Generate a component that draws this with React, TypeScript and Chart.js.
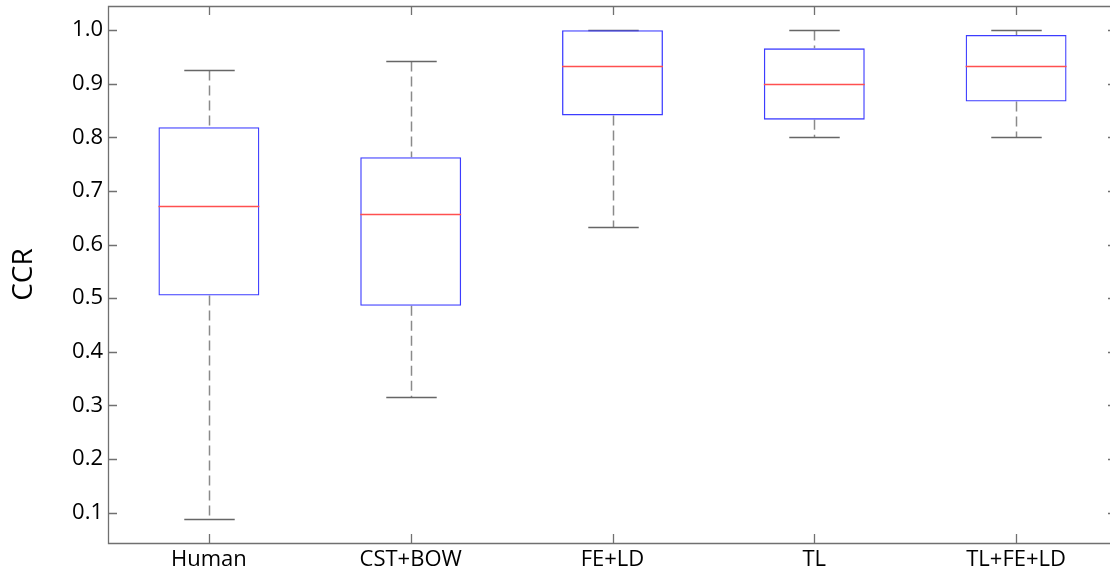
import React, { useEffect, useRef } from "react";
import { Chart, registerables } from "chart.js";

Chart.register(...registerables);

const CATEGORIES = ["Human", "CST+BOW", "FE+LD", "TL", "TL+FE+LD"];
const WHISKER_LOW = [0.088, 0.315, 0.633, 0.8, 0.8];
const Q1 = [0.505, 0.486, 0.841, 0.833, 0.867];
const MEDIAN = [0.672, 0.657, 0.933, 0.9, 0.933];
const Q3 = [0.819, 0.763, 1.0, 0.966, 0.991];
const WHISKER_HIGH = [0.926, 0.942, 1.0, 1.0, 1.0];
const Y_TICKS = [0.1, 0.2, 0.3, 0.4, 0.5, 0.6, 0.7, 0.8, 0.9, 1.0];
const Y_MIN = 0.0435;
const Y_MAX = 1.045;
const Y_LABEL = "CCR";

const FONT = "'Open Sans', 'Noto Sans', sans-serif";
const AXIS_COLOR = "#707070";
const TICK_LEN = 9;

const boxExtras = {
  id: "boxExtras",
  beforeDatasetsDraw(chart: any) {
    const { ctx, scales } = chart;
    const x = scales.x;
    const y = scales.y;
    const step = x.getPixelForValue(1) - x.getPixelForValue(0);
    ctx.save();
    CATEGORIES.forEach((_, i) => {
      const cx = Math.round(x.getPixelForValue(i)) + 0.5;
      const yHi = Math.round(y.getPixelForValue(WHISKER_HIGH[i])) + 0.5;
      const yLo = Math.round(y.getPixelForValue(WHISKER_LOW[i])) + 0.5;
      const yQ1 = y.getPixelForValue(Q1[i]);
      const yQ3 = y.getPixelForValue(Q3[i]);
      ctx.setLineDash([10, 5]);
      ctx.strokeStyle = "#8a8a8a";
      ctx.lineWidth = 1.5;
      ctx.beginPath();
      ctx.moveTo(cx, yHi);
      ctx.lineTo(cx, yQ3);
      ctx.moveTo(cx, yQ1);
      ctx.lineTo(cx, yLo);
      ctx.stroke();
      ctx.setLineDash([]);
      ctx.strokeStyle = "#666666";
      ctx.lineWidth = 1.5;
      ctx.beginPath();
      ctx.moveTo(cx - step * 0.125, yHi);
      ctx.lineTo(cx + step * 0.125, yHi);
      ctx.moveTo(cx - step * 0.125, yLo);
      ctx.lineTo(cx + step * 0.125, yLo);
      ctx.stroke();
    });
    ctx.restore();
  },
  afterDatasetsDraw(chart: any) {
    const { ctx, scales } = chart;
    const x = scales.x;
    const y = scales.y;
    const step = x.getPixelForValue(1) - x.getPixelForValue(0);
    ctx.save();
    ctx.strokeStyle = "#ff5050";
    ctx.lineWidth = 1.4;
    CATEGORIES.forEach((_, i) => {
      const cx = x.getPixelForValue(i);
      const ym = Math.round(y.getPixelForValue(MEDIAN[i])) + 0.5;
      ctx.beginPath();
      ctx.moveTo(cx - step * 0.25, ym);
      ctx.lineTo(cx + step * 0.25, ym);
      ctx.stroke();
    });
    ctx.restore();
  },
  afterDraw(chart: any) {
    const { ctx, chartArea, scales } = chart;
    const { left, right, top, bottom } = chartArea;
    const x = scales.x;
    const y = scales.y;
    ctx.save();
    ctx.strokeStyle = AXIS_COLOR;
    ctx.lineWidth = 1.3;
    ctx.beginPath();
    ctx.rect(left + 0.5, top + 0.5, right - left, bottom - top);
    ctx.stroke();
    ctx.beginPath();
    Y_TICKS.forEach((v) => {
      const py = Math.round(y.getPixelForValue(v)) + 0.5;
      ctx.moveTo(left, py);
      ctx.lineTo(left + TICK_LEN, py);
      ctx.moveTo(right, py);
      ctx.lineTo(right - TICK_LEN, py);
    });
    CATEGORIES.forEach((_, i) => {
      const px = Math.round(x.getPixelForValue(i)) + 0.5;
      ctx.moveTo(px, top);
      ctx.lineTo(px, top + TICK_LEN);
      ctx.moveTo(px, bottom);
      ctx.lineTo(px, bottom - TICK_LEN);
    });
    ctx.stroke();
    ctx.restore();
  },
};

export default function App() {
  const canvasRef = useRef<HTMLCanvasElement | null>(null);

  useEffect(() => {
    const canvas = canvasRef.current;
    if (!canvas) return;
    const chart = new Chart(canvas, {
      type: "bar",
      data: {
        labels: CATEGORIES,
        datasets: [
          {
            data: Q1.map((q, i) => [q, Q3[i]]) as any,
            backgroundColor: "rgba(0,0,0,0)",
            borderColor: "#3c3cff",
            borderWidth: 1.3,
            borderSkipped: false,
            barPercentage: 0.5,
            categoryPercentage: 1,
          },
        ],
      },
      options: {
        responsive: false,
        animation: false,
        devicePixelRatio: 1,
        layout: { padding: { top: 6, right: 3, left: 0, bottom: 0 } },
        plugins: {
          legend: { display: false },
          tooltip: { enabled: false },
        },
        scales: {
          x: {
            grid: { display: false, drawTicks: false, tickLength: 0 },
            border: { display: false },
            ticks: {
              color: "#000",
              font: { family: FONT, size: 22 },
              padding: 4,
              maxRotation: 0,
              autoSkip: false,
            },
            afterFit(scale: any) {
              scale.height = 28;
              scale.paddingLeft = 0;
              scale.paddingRight = 0;
            },
          },
          y: {
            min: Y_MIN,
            max: Y_MAX,
            grid: { display: false, drawTicks: false, tickLength: 0 },
            border: { display: false },
            afterBuildTicks(scale: any) {
              scale.ticks = Y_TICKS.map((v) => ({ value: v }));
            },
            ticks: {
              color: "#000",
              font: { family: FONT, size: 22 },
              padding: 5,
              callback: (v: any) => Number(v).toFixed(1),
            },
            title: {
              display: true,
              text: Y_LABEL,
              color: "#000",
              font: { family: FONT, size: 28 },
              padding: { top: 7, bottom: 0 },
            },
            afterFit(scale: any) {
              scale.width = 108;
              scale.paddingTop = 0;
              scale.paddingBottom = 0;
            },
          },
        },
      },
      plugins: [boxExtras],
    });
    return () => chart.destroy();
  }, []);

  return (
    <div
      style={{
        position: "fixed",
        left: 0,
        top: 0,
        width: 1110,
        height: 571,
        overflow: "hidden",
        background: "#fff",
      }}
    >
      <canvas ref={canvasRef} width={1120} height={571} style={{ display: "block" }} />
    </div>
  );
}
